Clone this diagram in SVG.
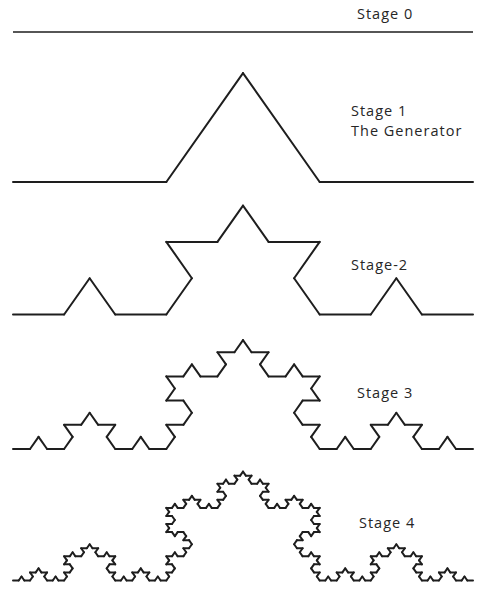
<svg xmlns="http://www.w3.org/2000/svg" width="478" height="592" viewBox="0 0 478 592">
<style>
.seg{fill:none;stroke:#1e1e1e;stroke-width:2;stroke-linecap:round;stroke-linejoin:round;vector-effect:non-scaling-stroke}
.lbl{font-family:"Open Sans","Liberation Sans",sans-serif;font-size:14.5px;letter-spacing:1px;fill:#262626}
</style>
<defs>
<path id="k0" class="seg" d="M0,0H1"/>
<g id="k1">
<use href="#k0" transform="scale(0.333333)"/>
<use href="#k0" transform="translate(0.333333,0) rotate(-60) scale(0.333333)"/>
<use href="#k0" transform="translate(0.5,-0.288675) rotate(60) scale(0.333333)"/>
<use href="#k0" transform="translate(0.666667,0) scale(0.333333)"/>
</g>
<g id="k2">
<use href="#k1" transform="scale(0.333333)"/>
<use href="#k1" transform="translate(0.333333,0) rotate(-60) scale(0.333333)"/>
<use href="#k1" transform="translate(0.5,-0.288675) rotate(60) scale(0.333333)"/>
<use href="#k1" transform="translate(0.666667,0) scale(0.333333)"/>
</g>
<g id="k3">
<use href="#k2" transform="scale(0.333333)"/>
<use href="#k2" transform="translate(0.333333,0) rotate(-60) scale(0.333333)"/>
<use href="#k2" transform="translate(0.5,-0.288675) rotate(60) scale(0.333333)"/>
<use href="#k2" transform="translate(0.666667,0) scale(0.333333)"/>
</g>
<g id="k4">
<use href="#k3" transform="scale(0.333333)"/>
<use href="#k3" transform="translate(0.333333,0) rotate(-60) scale(0.333333)"/>
<use href="#k3" transform="translate(0.5,-0.288675) rotate(60) scale(0.333333)"/>
<use href="#k3" transform="translate(0.666667,0) scale(0.333333)"/>
</g>
</defs>
<rect width="478" height="592" fill="#ffffff"/>
<g id="stage0">
<line x1="13" y1="32" x2="473" y2="32" stroke="#1e1e1e" stroke-width="1.6"/>
<text class="lbl" x="357" y="19">Stage 0</text>
</g>
<g id="stage1">
<use href="#k1" transform="translate(13,182) scale(460,377.2)"/>
<text class="lbl" x="351" y="115.5">Stage 1</text>
<text class="lbl" x="351" y="136">The Generator</text>
</g>
<g id="stage2">
<use href="#k2" transform="translate(13,314.5) scale(460,377.2)"/>
<text class="lbl" x="351" y="270">Stage-2</text>
</g>
<g id="stage3">
<use href="#k3" transform="translate(13,449) scale(460,377.2)"/>
<text class="lbl" x="357" y="398">Stage 3</text>
</g>
<g id="stage4">
<use href="#k4" transform="translate(13,580.5) scale(460,377.2)"/>
<text class="lbl" x="359" y="528">Stage 4</text>
</g>
</svg>
